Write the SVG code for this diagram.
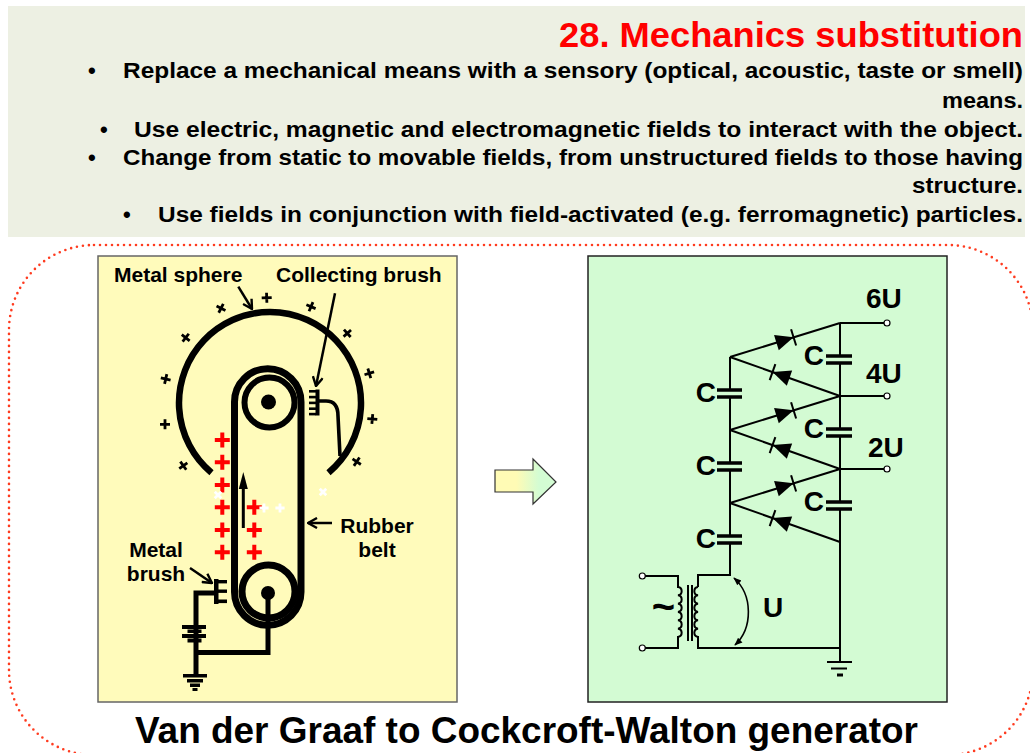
<svg xmlns="http://www.w3.org/2000/svg" width="1030" height="753" viewBox="0 0 1030 753">
<defs>
<style>
.t{font-family:"Liberation Sans",Arial,Helvetica,sans-serif;font-weight:bold;fill:#000}
.h{font-size:22px}
.lbl{font-size:21px}
.cw{font-size:28px}
.w{fill:none;stroke:#000}
.thin{fill:none;stroke:#000;stroke-width:2}
.plate{fill:none;stroke:#000;stroke-width:3.5}
.term{fill:#fff;stroke:#000;stroke-width:1.2}
.rp{fill:none;stroke:#ff0000;stroke-width:4}
.bp{fill:none;stroke:#000;stroke-width:2.8}
.wp{fill:none;stroke:#fff;stroke-width:2.8}
.lead{fill:none;stroke:#000;stroke-width:2.5}
</style>
<linearGradient id="arrowGrad" x1="0" y1="0" x2="1" y2="0">
<stop offset="0" stop-color="#fffbb5"/>
<stop offset="0.35" stop-color="#fffbb5"/>
<stop offset="0.72" stop-color="#d3fcd3"/>
<stop offset="1" stop-color="#d3fcd3"/>
</linearGradient>
<marker id="vhead" viewBox="0 0 12 12" refX="11" refY="6" markerWidth="12" markerHeight="12" markerUnits="userSpaceOnUse" orient="auto">
<path d="M2,1 L11,6 L2,11" fill="none" stroke="#000" stroke-width="2.4"/>
</marker>
<marker id="fhead" viewBox="0 0 10 10" refX="9" refY="5" markerWidth="8" markerHeight="8" markerUnits="userSpaceOnUse" orient="auto-start-reverse">
<path d="M0,1 L10,5 L0,9 Z" fill="#000"/>
</marker>
<path id="rplus" class="rp" d="M-7.5,0H7.5M0,-7.5V7.5"/>
<path id="bplus" class="bp" d="M-5,0H5M0,-5V5"/>
<path id="wplus" class="wp" d="M-4.6,0H4.6M0,-4.6V4.6"/>
<g id="diode">
<polygon points="-9,-8 -9,8 9,0" fill="#000"/>
<line x1="9" y1="-8.5" x2="9" y2="8.5" stroke="#000" stroke-width="2"/>
</g>
</defs>

<rect width="1030" height="753" fill="#fff"/>

<g id="header">
<rect x="8" y="6" width="1017" height="231" fill="#edf0e3"/>
<text class="t" x="559" y="47" font-size="35" style="fill:#ff0000" textLength="464" lengthAdjust="spacingAndGlyphs">28. Mechanics substitution</text>
<text class="t h" x="88" y="78">•</text>
<text class="t h" x="123" y="78" textLength="900" lengthAdjust="spacingAndGlyphs">Replace a mechanical means with a sensory (optical, acoustic, taste or smell)</text>
<text class="t h" x="942" y="108" textLength="81" lengthAdjust="spacingAndGlyphs">means.</text>
<text class="t h" x="100" y="137">•</text>
<text class="t h" x="134" y="137" textLength="889" lengthAdjust="spacingAndGlyphs">Use electric, magnetic and electromagnetic fields to interact with the object.</text>
<text class="t h" x="88" y="165">•</text>
<text class="t h" x="123" y="165" textLength="900" lengthAdjust="spacingAndGlyphs">Change from static to movable fields, from unstructured fields to those having</text>
<text class="t h" x="912" y="193" textLength="111" lengthAdjust="spacingAndGlyphs">structure.</text>
<text class="t h" x="123" y="222">•</text>
<text class="t h" x="158" y="222" textLength="865" lengthAdjust="spacingAndGlyphs">Use fields in conjunction with field-activated (e.g. ferromagnetic) particles.</text>
</g>

<g id="border">
<rect x="9" y="245" width="1024" height="510" rx="85" ry="85" fill="none" stroke="#ff3b1f" stroke-width="2.6" stroke-dasharray="0 6" stroke-linecap="round"/>
</g>

<g id="van-de-graaff">
<rect x="98" y="256" width="359" height="446" fill="#fffbbb" stroke="#666" stroke-width="1.5"/>
<path class="w" stroke-width="6.5" d="M211.5,472.7 A91,91 0 1 1 328.5,472.7"/>
<path class="w" stroke-width="7" d="M234.5,402 A33.25,33.25 0 0 1 301,402 V592 A33.25,33.25 0 0 1 234.5,592 Z"/>
<circle cx="269.5" cy="402.5" r="25" class="w" stroke-width="6"/>
<circle cx="268.5" cy="402" r="7.5" fill="#000"/>
<circle cx="268.5" cy="591.5" r="26.5" class="w" stroke-width="7"/>
<circle cx="268" cy="593" r="7" fill="#000"/>
<path class="w" stroke-width="5" d="M268,593 V652.5 H196"/>
<path class="w" stroke-width="5" d="M214,593 H196 V675"/>
<rect x="214" y="579" width="4.5" height="25" fill="#000"/>
<rect x="218" y="580" width="9" height="3.4" fill="#000"/>
<rect x="218" y="589.5" width="9" height="3.4" fill="#000"/>
<rect x="218" y="599.5" width="9" height="3.6" fill="#000"/>
<rect x="315.5" y="389.5" width="4" height="26" fill="#000"/>
<rect x="309" y="390" width="7" height="2.6" fill="#000"/>
<rect x="309" y="395.8" width="7" height="2.6" fill="#000"/>
<rect x="309" y="401.6" width="7" height="2.6" fill="#000"/>
<rect x="309" y="407.4" width="7" height="2.6" fill="#000"/>
<rect x="309" y="412.8" width="7" height="2.6" fill="#000"/>
<path class="w" stroke-width="3.6" d="M319,401 H326 Q338,401 338,416 L340,456"/>
<rect x="182" y="625" width="24" height="4" fill="#000"/>
<rect x="187.5" y="629.5" width="14" height="3.5" fill="#000"/>
<rect x="182" y="634" width="24" height="4" fill="#000"/>
<rect x="187.5" y="638.5" width="14" height="4" fill="#000"/>
<rect x="183" y="674" width="24" height="3.5" fill="#000"/>
<rect x="187" y="679" width="16" height="3.5" fill="#000"/>
<rect x="190" y="683.5" width="10" height="3.5" fill="#000"/>
<rect x="192.5" y="688" width="5" height="3" fill="#000"/>
<line x1="243.3" y1="528" x2="243.3" y2="486" stroke="#000" stroke-width="3"/>
<polygon points="243.3,472 238.8,489 247.8,489" fill="#000"/>
<use href="#rplus" x="222.3" y="440"/>
<use href="#rplus" x="222.3" y="462.3"/>
<use href="#rplus" x="222.3" y="485"/>
<use href="#rplus" x="222.3" y="507.3"/>
<use href="#rplus" x="222.3" y="530"/>
<use href="#rplus" x="222.3" y="552.3"/>
<use href="#rplus" x="254.3" y="507.3"/>
<use href="#rplus" x="254.3" y="530"/>
<use href="#rplus" x="254.3" y="552.3"/>
<use href="#wplus" transform="translate(218,495) rotate(45)"/>
<use href="#wplus" transform="translate(264,508) rotate(0)"/>
<use href="#wplus" transform="translate(280,508) rotate(0)"/>
<use href="#wplus" transform="translate(323,492) rotate(45)"/>
<use href="#bplus" transform="translate(266.7,297.7) rotate(-2)"/>
<use href="#bplus" transform="translate(221,308.3) rotate(27)"/>
<use href="#bplus" transform="translate(311,306.7) rotate(23)"/>
<use href="#bplus" transform="translate(185.7,337.7) rotate(38)"/>
<use href="#bplus" transform="translate(347.3,333.3) rotate(-42)"/>
<use href="#bplus" transform="translate(165.7,379) rotate(13)"/>
<use href="#bplus" transform="translate(369.3,373.3) rotate(-17)"/>
<use href="#bplus" transform="translate(165,424.3) rotate(0)"/>
<use href="#bplus" transform="translate(372.3,419) rotate(5)"/>
<use href="#bplus" transform="translate(183.3,465.7) rotate(54)"/>
<use href="#bplus" transform="translate(356.7,461.7) rotate(34)"/>
<text class="t lbl" x="114" y="282">Metal sphere</text>
<text class="t lbl" x="276" y="282">Collecting brush</text>
<text class="t lbl" x="377" y="533" text-anchor="middle">Rubber</text>
<text class="t lbl" x="377" y="557" text-anchor="middle">belt</text>
<text class="t lbl" x="156" y="557" text-anchor="middle">Metal</text>
<text class="t lbl" x="156" y="581" text-anchor="middle">brush</text>
</g>

<g id="connectors">
<line class="lead" x1="238.3" y1="286.7" x2="252" y2="309" marker-end="url(#vhead)"/>
<line class="lead" x1="335" y1="293.3" x2="316" y2="386" marker-end="url(#vhead)"/>
<line class="lead" x1="332" y1="523" x2="308" y2="523" marker-end="url(#vhead)"/>
<line class="lead" x1="190" y1="568" x2="212" y2="583" marker-end="url(#vhead)"/>
</g>

<g id="transition-arrow">
<polygon points="495,470 533,470 533,459 556,482 533,504 533,492 495,492" fill="url(#arrowGrad)" stroke="#333" stroke-width="1.2"/>
</g>

<g id="cockcroft-walton">
<rect x="588" y="256" width="359" height="446" fill="#d3fbd3" stroke="#222" stroke-width="1.5"/>
<path class="thin" d="M840,323 V356 M840,363 V429 M840,436 V502 M840,509 V662"/>
<path class="thin" d="M840,323 H884 M840,396 H884 M840,469 H884"/>
<path class="plate" d="M826,356 H852 M826,363 H852 M826,429 H852 M826,436 H852 M826,502 H852 M826,509 H852"/>
<path class="thin" d="M730,357 V390 M730,397 V463 M730,470 V536 M730,543 V575 H698 V587"/>
<path class="plate" d="M717,390 H742 M717,397 H742 M717,463 H742 M717,470 H742 M717,536 H742 M717,543 H742"/>
<path class="thin" d="M730,357 L840,323 M840,396 L730,357 M730,430 L840,396 M840,469 L730,430 M730,503 L840,469 M840,542 L730,503"/>
<use href="#diode" transform="translate(785,340) rotate(-17.2)"/>
<use href="#diode" transform="translate(781,375.1) rotate(-160.5)"/>
<use href="#diode" transform="translate(785,413) rotate(-17.2)"/>
<use href="#diode" transform="translate(781,448.1) rotate(-160.5)"/>
<use href="#diode" transform="translate(785,486) rotate(-17.2)"/>
<use href="#diode" transform="translate(781,521.1) rotate(-160.5)"/>
<path class="thin" d="M698,587 a4.2,4.2 0 0 0 0,8.33 a4.2,4.2 0 0 0 0,8.33 a4.2,4.2 0 0 0 0,8.33 a4.2,4.2 0 0 0 0,8.33 a4.2,4.2 0 0 0 0,8.33 a4.2,4.2 0 0 0 0,8.33 V648 H840"/>
<path class="thin" d="M645,576 H678 V587 a4.2,4.2 0 0 1 0,8.33 a4.2,4.2 0 0 1 0,8.33 a4.2,4.2 0 0 1 0,8.33 a4.2,4.2 0 0 1 0,8.33 a4.2,4.2 0 0 1 0,8.33 a4.2,4.2 0 0 1 0,8.33 V648 H645"/>
<path class="thin" d="M688,585 V641 M692,585 V641"/>
<path class="thin" d="M827,662 H852 M831,668.5 H847"/>
<path d="M837,675 H843" stroke="#000" stroke-width="3"/>
<path fill="none" stroke="#000" stroke-width="1.6" d="M734,578 C753,595 753,628 735,645" marker-start="url(#fhead)" marker-end="url(#fhead)"/>
<circle class="term" cx="887" cy="323" r="3"/>
<circle class="term" cx="887" cy="396" r="3"/>
<circle class="term" cx="887" cy="469" r="3"/>
<circle class="term" cx="642.3" cy="576" r="3"/>
<circle class="term" cx="642.3" cy="648" r="3"/>
<text class="t cw" x="866" y="308">6U</text>
<text class="t cw" x="866" y="383">4U</text>
<text class="t cw" x="868" y="457">2U</text>
<text class="t cw" x="824" y="365" text-anchor="end">C</text>
<text class="t cw" x="824" y="438" text-anchor="end">C</text>
<text class="t cw" x="824" y="511" text-anchor="end">C</text>
<text class="t cw" x="716" y="401.5" text-anchor="end">C</text>
<text class="t cw" x="716" y="474.5" text-anchor="end">C</text>
<text class="t cw" x="716" y="547.5" text-anchor="end">C</text>
<text class="t" x="663.5" y="620" font-size="40" text-anchor="middle">~</text>
<text class="t cw" x="763" y="617">U</text>
</g>

<g id="caption">
<text class="t" x="135" y="743" font-size="36" textLength="783" lengthAdjust="spacingAndGlyphs">Van der Graaf to Cockcroft-Walton generator</text>
</g>
</svg>
